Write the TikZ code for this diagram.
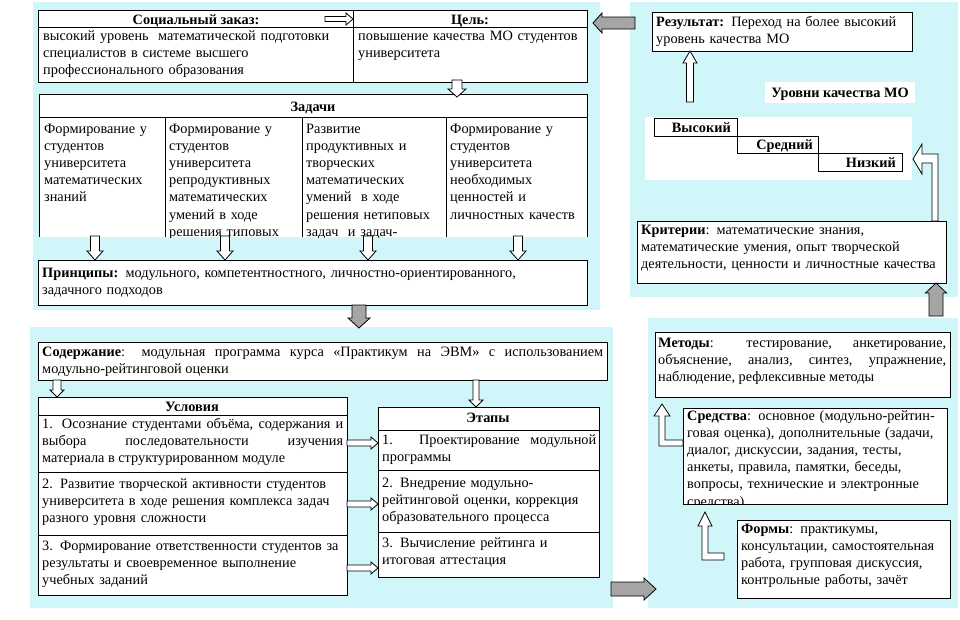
\documentclass[tikz,border=0pt]{standalone}
\usepackage{fontspec}
\setmainfont{Liberation Serif}

\begin{document}
\begin{tikzpicture}[x=1pt, y=-1pt,
  every node/.style={font=\fontsize{14.3}{17.2}\selectfont},
  box/.style={draw, line width=0.8pt, fill=white, inner sep=0pt},
  bg/.style={fill=white, inner sep=0pt},
  txt/.style={inner sep=0pt, anchor=base west, text width=#1, align=left},
  txt/.default=600,
  jtxt/.style={inner sep=0pt, anchor=base west, text width=#1, align=justify},
  head/.style={inner sep=0pt, anchor=base, font=\fontsize{14.3}{17.2}\selectfont\bfseries},
  lvl/.style={inner sep=0pt, anchor=base east, font=\fontsize{14.3}{17.2}\selectfont\bfseries},
  pics/barrow/.style n args={5}{code={
    \filldraw[fill=#5, line width=0.8pt]
      (0,-#2) -- (#1-#4,-#2) -- (#1-#4,-#3) -- (#1,0)
      -- (#1-#4,#3) -- (#1-#4,#2) -- (0,#2) -- cycle;
  }}]
  % цвета
  \definecolor{panel}{RGB}{208,246,250}
  \definecolor{arrgray}{RGB}{165,165,165}

  \useasboundingbox (0,0) rectangle (960,619);

  % фон
  \fill[panel] (33,2) rectangle (600,310);
  \fill[panel] (30,327) rectangle (613,608);
  \fill[panel] (630,2) rectangle (958,297);
  \fill[panel] (648,318) rectangle (958,608);

  % Социальный заказ / Цель
  \node[box, minimum width=549, minimum height=72] (zakaz) at (312.5,46) {};
  \draw[line width=0.8pt] (38,27) -- (587,27);
  \draw[line width=0.8pt] (353,10) -- (353,82);
  \node[head] (zakazh) at (196,24) {Социальный заказ:};
  \node[head] (celh) at (470,24) {Цель:};
  \node[txt] (zakazt) at (43,40) {высокий уровень\ \ математической подготовки\\
    специалистов в системе высшего\\профессионального образования};
  \node[txt] (celt) at (358,40) {повышение качества МО студентов\\университета};

  % Задачи
  \node[bg, minimum width=547, minimum height=142] (zadachi) at (313.5,166) {};
  \draw[line width=0.8pt] (zadachi.south west) -- (zadachi.north west)
    -- (zadachi.north east) -- (zadachi.south east);
  \draw[line width=0.8pt] (40,117) -- (587,117);
  \foreach \cx in {165,302,446}
    \draw[line width=0.8pt] (\cx,117) -- (\cx,237);
  \node[head] (zadachih) at (313,111) {Задачи};
  \begin{scope}
    \clip (40,95) rectangle (587,237);
    \node[txt] (z1) at (44,133) {Формирование у\\студентов\\университета\\
      математических\\знаний};
    \node[txt] (z2) at (169,133) {Формирование у\\студентов\\университета\\
      репродуктивных\\математических\\умений в ходе\\решения типовых};
    \node[txt] (z3) at (306,133) {Развитие\\продуктивных и\\творческих\\
      математических\\умений\ \ в ходе\\решения нетиповых\\задач\ \ и задач-};
    \node[txt] (z4) at (450,133) {Формирование у\\студентов\\университета\\
      необходимых\\ценностей и\\личностных качеств};
  \end{scope}

  % Принципы
  \node[box, minimum width=549, minimum height=45] (princ) at (312.5,282.5) {};
  \node[txt] (princt) at (42,277) {\textbf{Принципы:} модульного, компетентностного,
    личностно-ориентированного,\\задачного подходов};

  % Содержание
  \node[box, minimum width=569, minimum height=38] (soder) at (322.5,361) {};
  \node[jtxt=561] (sodert) at (42,356) {\textbf{Содержание}: модульная программа курса
    «Практикум на ЭВМ» с использованием\linebreak модульно-рейтинговой оценки};

  % Условия
  \node[box, minimum width=309, minimum height=198] (uslov) at (192.5,496) {};
  \draw[line width=0.8pt] (38,415) -- (347,415);
  \draw[line width=0.8pt] (38,472) -- (347,472);
  \draw[line width=0.8pt] (38,535) -- (347,535);
  \node[head] (uslovh) at (192,411) {Условия};
  \node[jtxt=301] (u1) at (42,428) {1. Осознание студентами объёма, содержания
    и\linebreak выбора последовательности изучения\linebreak материала в
    структурированном модуле};
  \node[txt] (u2) at (42,488) {2. Развитие творческой активности студентов\\
    университета в ходе решения комплекса задач\\разного уровня сложности};
  \node[txt] (u3) at (42,550) {3. Формирование ответственности студентов за\\
    результаты и своевременное выполнение\\учебных заданий};

  % Этапы
  \node[box, minimum width=221, minimum height=170] (etapy) at (488.5,492) {};
  \draw[line width=0.8pt] (378,430) -- (599,430);
  \draw[line width=0.8pt] (378,470) -- (599,470);
  \draw[line width=0.8pt] (378,532) -- (599,532);
  \node[head] (etapyh) at (488,422) {Этапы};
  \node[jtxt=214] (e1) at (382,444) {1. Проектирование модульной\linebreak программы};
  \node[txt] (e2) at (382,487) {2. Внедрение модульно-\\рейтинговой оценки, коррекция\\
    образовательного процесса};
  \node[txt] (e3) at (382,547) {3. Вычисление рейтинга и\\итоговая аттестация};

  % Результат и уровни
  \node[box, minimum width=260, minimum height=39] (rezult) at (782,31.5) {};
  \node[txt] (rezultt) at (656,26) {\textbf{Результат:} Переход на более высокий\\
    уровень качества МО};
  \node[bg, minimum width=150, minimum height=21] (urovbg) at (840,92.5) {};
  \node[head] (urovh) at (840,97) {Уровни качества МО};
  \node[bg, minimum width=267, minimum height=63] (lvlbg) at (778.5,148.5) {};
  \node[box, minimum width=83, minimum height=18] (vys) at (695.5,127) {};
  \node[box, minimum width=81, minimum height=17] (sred) at (777.5,144.5) {};
  \node[box, minimum width=84, minimum height=18] (nizk) at (860,162) {};
  \node[lvl] (vyst) at (731,132) {Высокий};
  \node[lvl] (sredt) at (813,149) {Средний};
  \node[lvl] (nizkt) at (896,167) {Низкий};

  % Критерии
  \node[box, minimum width=309, minimum height=62] (krit) at (791.5,252) {};
  \node[txt] (kritt) at (641,234) {\textbf{Критерии}: математические знания,\\
    математические умения, опыт творческой\\деятельности, ценности и личностные качества};

  % Методы, Средства, Формы
  \node[box, minimum width=295, minimum height=65] (metody) at (802.5,364.5) {};
  \node[jtxt=288] (metodyt) at (658,347) {\textbf{Методы}: тестирование,
    анкетирование,\linebreak объяснение, анализ, синтез, упражнение,\linebreak
    наблюдение, рефлексивные методы};
  \node[box, minimum width=264, minimum height=96] (sredst) at (815,456) {};
  \begin{scope}
    \clip (683,408) rectangle (947,504);
    \node[txt] (sredstt) at (687,420) {\textbf{Средства}: основное (модульно-рейтин-\\
      говая оценка), дополнительные (задачи,\\диалог, дискуссии, задания, тесты,\\
      анкеты, правила, памятки, беседы,\\вопросы, технические и электронные\\средства)};
  \end{scope}
  \node[box, minimum width=213, minimum height=78] (formy) at (843.5,559) {};
  \node[txt] (formyt) at (741,533) {\textbf{Формы}: практикумы,\\консультации,
    самостоятельная\\работа, групповая дискуссия,\\контрольные работы, зачёт};

  % стрелки
  \pic at (325,19) {barrow={28}{2.5}{6}{7}{white}};
  \pic[rotate=180] at (635,23) {barrow={42}{6}{10}{9}{arrgray}};
  \pic[rotate=-90] at (457,80) {barrow={17}{5}{9}{8}{white}};
  \foreach \ax in {95,225,368,518}
    \pic[rotate=-90] at (\ax,236) {barrow={24}{4.5}{8}{9}{white}};
  \pic[rotate=-90] at (359,305) {barrow={23}{7}{11}{10}{arrgray}};
  \pic[rotate=-90] at (57,380) {barrow={17}{4}{7}{7}{white}};
  \pic[rotate=-90] at (476,380) {barrow={27}{3}{7}{7}{white}};
  \foreach \ay in {443,504,568}
    \pic at (347,\ay) {barrow={31}{3}{6}{7}{white}};
  \pic at (611,589) {barrow={45}{7}{11}{12}{arrgray}};
  \pic[rotate=90] at (690,102) {barrow={51}{3.5}{7}{12}{white}};
  \pic[rotate=90] at (936,316) {barrow={33}{7}{10.5}{10}{arrgray}};

  % уголковые стрелки
  \filldraw[fill=white, line width=0.8pt] (932,221) -- (932,163) -- (922,163)
    -- (922,174) -- (913,159) -- (922,144) -- (922,154) -- (938,154) -- (938,221) -- cycle;
  \filldraw[fill=white, line width=0.8pt] (683,440) -- (665,440) -- (665,416)
    -- (670,416) -- (662,404) -- (654,416) -- (659,416) -- (659,446) -- (683,446) -- cycle;
  \filldraw[fill=white, line width=0.8pt] (724,553) -- (708,553) -- (708,526)
    -- (712,526) -- (705,512) -- (698,526) -- (702,526) -- (702,560) -- (724,560) -- cycle;

\end{tikzpicture}
\end{document}
